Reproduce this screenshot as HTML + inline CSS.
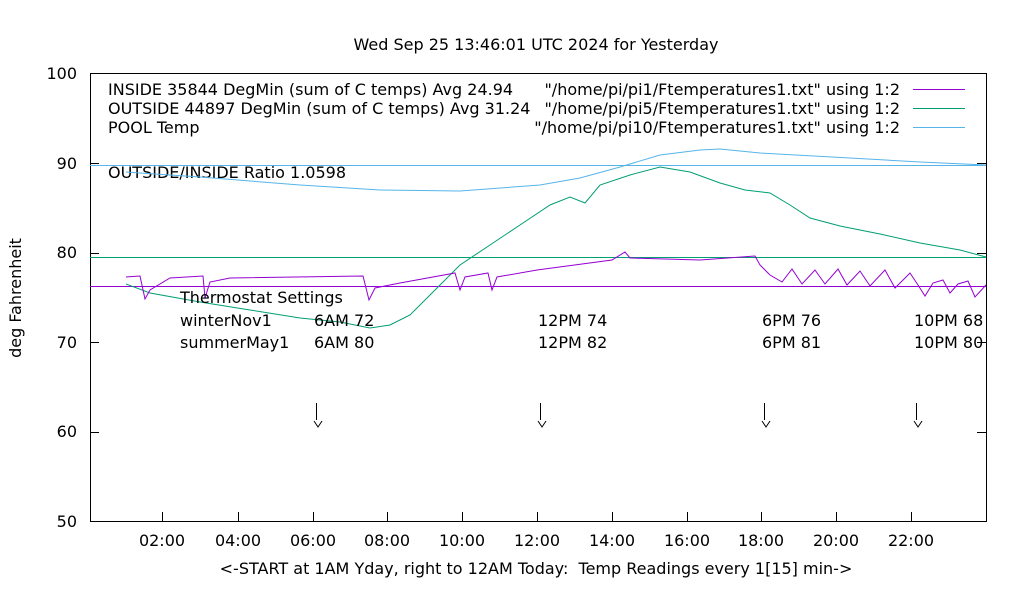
<!DOCTYPE html>
<html><head><style>body{margin:0;background:#fff}svg{display:block}text{font-family:"DejaVu Sans","Liberation Sans",sans-serif;font-size:16px;fill:#000}</style></head><body>
<svg width="1020" height="600" xmlns="http://www.w3.org/2000/svg">
<text x="536" y="50" text-anchor="middle">Wed Sep 25 13:46:01 UTC 2024 for Yesterday</text>
<rect x="90.5" y="73.5" width="896" height="448" fill="none" stroke="#000"/>
<g stroke="#000">
<path d="M90 163.5h9M977 163.5h9M90 253.5h9M977 253.5h9M90 342.5h9M977 342.5h9M90 432.5h9M977 432.5h9"/>
<path d="M162.5 521v-9M238.5 521v-9M313.5 521v-9M387.5 521v-9M462.5 521v-9M537.5 521v-9M612.5 521v-9M687.5 521v-9M761.5 521v-9M836.5 521v-9M911.5 521v-9"/>
</g>
<g text-anchor="end"><text x="77" y="79">100</text><text x="77" y="169">90</text><text x="77" y="258">80</text><text x="77" y="348">70</text><text x="77" y="437">60</text><text x="77" y="527">50</text></g>
<g text-anchor="middle"><text x="162" y="546">02:00</text><text x="238" y="546">04:00</text><text x="313" y="546">06:00</text><text x="387" y="546">08:00</text><text x="462" y="546">10:00</text><text x="537" y="546">12:00</text><text x="612" y="546">14:00</text><text x="687" y="546">16:00</text><text x="761" y="546">18:00</text><text x="836" y="546">20:00</text><text x="911" y="546">22:00</text></g>
<text x="536" y="574" text-anchor="middle">&lt;-START at 1AM Yday, right to 12AM Today:&#160; Temp Readings every 1[15] min-&gt;</text>
<text transform="translate(21,298) rotate(-90)" text-anchor="middle">deg Fahrenheit</text>
<text x="108" y="95">INSIDE 35844 DegMin (sum of C temps) Avg 24.94</text>
<text x="108" y="114">OUTSIDE 44897 DegMin (sum of C temps) Avg 31.24</text>
<text x="108" y="133">POOL Temp</text>
<g text-anchor="end"><text x="900" y="95">"/home/pi/pi1/Ftemperatures1.txt" using 1:2</text><text x="900" y="114">"/home/pi/pi5/Ftemperatures1.txt" using 1:2</text><text x="900" y="133">"/home/pi/pi10/Ftemperatures1.txt" using 1:2</text></g>
<path d="M913 89.5h52" stroke="#9400d3"/><path d="M913 108.5h52" stroke="#009e73"/><path d="M913 127.5h52" stroke="#56b4e9"/>
<text x="108" y="178">OUTSIDE/INSIDE Ratio 1.0598</text>
<path d="M90 165.5h896" stroke="#56b4e9"/>
<path d="M90 257.5h896" stroke="#009e73"/>
<path d="M90 286.5h896" stroke="#9400d3"/>
<polyline fill="none" stroke="#56b4e9" points="126,172 200,177 300,185 380,190 460,191 540,185 580,178 620,167 660,155 700,150 720,149 760,153 850,158 920,162 986,165"/>
<polyline fill="none" stroke="#009e73" points="126,284 150,293 200,302 250,310 300,318 340,322 370,328 390,325 410,315 430,295 460,265 490,245 520,225 550,205 570,197 585,203 600,185 630,175 660,167 690,172 720,183 745,190 770,193 790,205 810,218 840,226 880,234 920,243 960,250 986,257"/>
<polyline fill="none" stroke="#9400d3" points="126,277 140,276 145,299 150,290 170,278 203,276 205,298 210,282 230,278 363,276 369,300 375,288 400,283 455,273 460,290 465,277 488,273 492,290 497,277 537,270 612,260 625,252 630,258 700,260 755,256 760,265 770,275 782,282 792,269 802,284 815,270 825,284 838,269 847,285 860,271 870,286 885,270 895,288 910,273 918,285 925,296 933,283 943,280 950,293 958,284 968,281 975,297 986,285"/>
<text x="180" y="303">Thermostat Settings</text>
<text x="180" y="326">winterNov1</text><text x="180" y="348">summerMay1</text>
<text x="314" y="326">6AM 72</text><text x="314" y="348">6AM 80</text>
<text x="538" y="326">12PM 74</text><text x="538" y="348">12PM 82</text>
<text x="762" y="326">6PM 76</text><text x="762" y="348">6PM 81</text>
<text x="914" y="326">10PM 68</text><text x="914" y="348">10PM 80</text>
<g stroke="#000" fill="none"><path d="M316.5 403v17M314 421l4 6 4-6M540.5 403v17M538 421l4 6 4-6M764.5 403v17M762 421l4 6 4-6M916.5 403v17M914 421l4 6 4-6"/></g>
</svg>
</body></html>
